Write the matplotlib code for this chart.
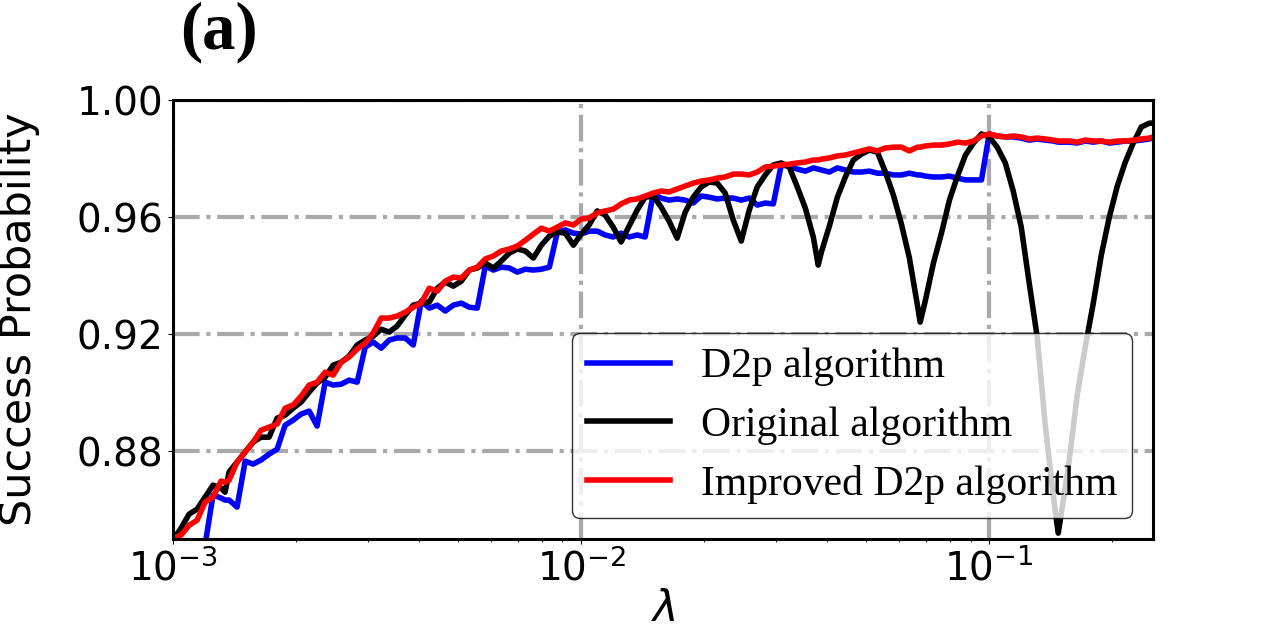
import numpy as np
import matplotlib
matplotlib.use('Agg')
import matplotlib.pyplot as plt
from matplotlib.ticker import FormatStrFormatter

# lambda values (shared by the three curves)
lam = [
    1.000e-3, 1.046e-3, 1.095e-3, 1.145e-3, 1.198e-3, 1.253e-3, 1.311e-3, 1.341e-3, 1.372e-3, 1.435e-3,
    1.502e-3, 1.571e-3, 1.643e-3, 1.719e-3, 1.799e-3, 1.882e-3, 1.969e-3, 2.060e-3, 2.155e-3, 2.254e-3,
    2.359e-3, 2.468e-3, 2.582e-3, 2.701e-3, 2.826e-3, 2.957e-3, 3.093e-3, 3.236e-3, 3.386e-3, 3.542e-3,
    3.706e-3, 3.878e-3, 4.057e-3, 4.245e-3, 4.441e-3, 4.646e-3, 4.861e-3, 5.085e-3, 5.320e-3, 5.566e-3,
    5.824e-3, 6.093e-3, 6.374e-3, 6.669e-3, 6.977e-3, 7.300e-3, 7.637e-3, 7.990e-3, 8.359e-3, 8.746e-3,
    9.150e-3, 9.573e-3,
    1.000e-2, 1.046e-2, 1.095e-2, 1.145e-2, 1.198e-2, 1.253e-2, 1.311e-2, 1.372e-2, 1.435e-2, 1.502e-2,
    1.571e-2, 1.643e-2, 1.719e-2, 1.799e-2, 1.882e-2, 1.969e-2, 2.060e-2, 2.155e-2, 2.254e-2, 2.359e-2,
    2.468e-2, 2.582e-2, 2.701e-2, 2.826e-2, 2.957e-2, 3.093e-2, 3.236e-2, 3.386e-2, 3.542e-2, 3.706e-2,
    3.810e-2, 3.878e-2, 4.057e-2, 4.245e-2, 4.441e-2, 4.646e-2, 4.861e-2, 5.085e-2, 5.320e-2, 5.566e-2,
    5.824e-2, 6.093e-2, 6.374e-2, 6.669e-2, 6.773e-2, 6.977e-2, 7.300e-2, 7.637e-2, 7.990e-2, 8.359e-2,
    8.746e-2, 9.150e-2, 9.573e-2,
    1.000e-1, 1.046e-1, 1.095e-1, 1.145e-1, 1.198e-1, 1.253e-1, 1.311e-1, 1.372e-1, 1.435e-1, 1.476e-1,
    1.502e-1, 1.571e-1, 1.643e-1, 1.719e-1, 1.799e-1, 1.882e-1, 1.969e-1, 2.060e-1, 2.155e-1, 2.254e-1,
    2.359e-1, 2.468e-1, 2.524e-1,
]

# D2p algorithm
p_d2p = [
    0.842, 0.843, 0.845, 0.846, 0.848, 0.8650, 0.8640, 0.8633, 0.8633, 0.8609,
    0.8766, 0.8756, 0.8770, 0.8790, 0.8807, 0.8889, 0.8906, 0.8927, 0.8937, 0.8886,
    0.9036, 0.9026, 0.9029, 0.9043, 0.9036, 0.9156, 0.9173, 0.9152, 0.9180, 0.9187,
    0.9187, 0.9163, 0.9313, 0.9289, 0.9299, 0.9279, 0.9299, 0.9306, 0.9292, 0.9289,
    0.9433, 0.9419, 0.9429, 0.9426, 0.9412, 0.9422, 0.9419, 0.9422, 0.9429, 0.9549,
    0.9556, 0.9545,
    0.9542, 0.9552, 0.9552, 0.9539, 0.9532, 0.9545, 0.9532, 0.9539, 0.9532, 0.9679,
    0.9665, 0.9658, 0.9662, 0.9658, 0.9648, 0.9672, 0.9668, 0.9662, 0.9665, 0.9665,
    0.9658, 0.9665, 0.9641, 0.9648, 0.9645, 0.9778, 0.9774, 0.9764, 0.9757, 0.9768,
    0.9764, 0.9761, 0.9754, 0.9768, 0.9761, 0.9754, 0.9754, 0.9757, 0.9750, 0.9750,
    0.9744, 0.9744, 0.9750, 0.9744, 0.9744, 0.9740, 0.9737, 0.9737, 0.9740, 0.9733,
    0.9727, 0.9727, 0.9727,
    0.9884, 0.9877, 0.9874, 0.9874, 0.9870, 0.9863, 0.9867, 0.9863, 0.9860, 0.9856,
    0.9856, 0.9856, 0.9853, 0.9860, 0.9856, 0.9860, 0.9853, 0.9856, 0.9860, 0.9860,
    0.9863, 0.9867, 0.9870,
]

# Original algorithm
p_orig = [
    0.8496, 0.8537, 0.8585, 0.8602, 0.8643, 0.8684, 0.8674, 0.8660, 0.8729, 0.8763,
    0.8797, 0.8831, 0.8848, 0.8848, 0.8913, 0.8923, 0.8947, 0.8968, 0.9002, 0.9033,
    0.9053, 0.9094, 0.9104, 0.9125, 0.9163, 0.9180, 0.9193, 0.9217, 0.9207, 0.9228,
    0.9265, 0.9299, 0.9306, 0.9310, 0.9357, 0.9378, 0.9364, 0.9381, 0.9419, 0.9426,
    0.9443, 0.9426, 0.9450, 0.9477, 0.9491, 0.9484, 0.9460, 0.9504, 0.9535, 0.9549,
    0.9545, 0.9504,
    0.9542, 0.9573, 0.9621, 0.9607, 0.9566, 0.9515, 0.9569, 0.9624, 0.9668, 0.9672,
    0.9634, 0.9586, 0.9528, 0.9617, 0.9668, 0.9703, 0.9720, 0.9716, 0.9682, 0.9590,
    0.9518, 0.9624, 0.9703, 0.9744, 0.9778, 0.9785, 0.9771, 0.9703, 0.9631, 0.9532,
    0.9436, 0.9480, 0.9569, 0.9668, 0.9737, 0.9795, 0.9815, 0.9829, 0.9822, 0.9754,
    0.9675, 0.9576, 0.9460, 0.9299, 0.9241, 0.9316, 0.9443, 0.9545, 0.9658, 0.9740,
    0.9812, 0.9853, 0.9884,
    0.9874, 0.9839, 0.9785, 0.9689, 0.9566, 0.9375, 0.9190, 0.8889, 0.8650, 0.8520,
    0.8588, 0.8770, 0.8992, 0.9156, 0.9306, 0.9470, 0.9600, 0.9706, 0.9788, 0.9853,
    0.9908, 0.9921, 0.9921,
]

# Improved D2p algorithm
p_imp = [
    0.8503, 0.8513, 0.8547, 0.8564, 0.8626, 0.8643, 0.8698, 0.8694, 0.8701, 0.8763,
    0.8797, 0.8831, 0.8872, 0.8882, 0.8893, 0.8947, 0.8958, 0.8988, 0.9026, 0.9036,
    0.9070, 0.9060, 0.9104, 0.9122, 0.9149, 0.9169, 0.9204, 0.9255, 0.9255, 0.9262,
    0.9275, 0.9292, 0.9306, 0.9357, 0.9347, 0.9381, 0.9395, 0.9392, 0.9419, 0.9429,
    0.9457, 0.9467, 0.9484, 0.9491, 0.9501, 0.9521, 0.9542, 0.9562, 0.9552, 0.9566,
    0.9580, 0.9573,
    0.9593, 0.9597, 0.9614, 0.9621, 0.9627, 0.9645, 0.9658, 0.9662, 0.9672, 0.9682,
    0.9689, 0.9686, 0.9696, 0.9706, 0.9716, 0.9723, 0.9727, 0.9733, 0.9737, 0.9747,
    0.9747, 0.9744, 0.9754, 0.9771, 0.9774, 0.9778, 0.9781, 0.9785, 0.9788, 0.9795,
    0.9795, 0.9798, 0.9802, 0.9809, 0.9812, 0.9819, 0.9826, 0.9833, 0.9826, 0.9836,
    0.9839, 0.9839, 0.9826, 0.9839, 0.9839, 0.9843, 0.9846, 0.9846, 0.9850, 0.9856,
    0.9853, 0.9860, 0.9877,
    0.9884, 0.9877, 0.9874, 0.9877, 0.9874, 0.9867, 0.9870, 0.9867, 0.9863, 0.9860,
    0.9860, 0.9860, 0.9856, 0.9863, 0.9860, 0.9860, 0.9856, 0.9860, 0.9860, 0.9863,
    0.9867, 0.9870, 0.9874,
]

y_ticks = [0.88, 0.92, 0.96, 1.00]

plt.rcParams['font.family'] = ['DejaVu Sans']
plt.rcParams['mathtext.fontset'] = 'dejavusans'

fig = plt.figure(figsize=(12.8, 6.24), dpi=100)
ax = fig.add_axes([0.1352, 0.1362, 0.7656, 0.7035])

ax.plot(lam, p_d2p, color='blue', lw=4, label='D2p algorithm')
ax.plot(lam, p_orig, color='black', lw=4, label='Original algorithm')
ax.plot(lam, p_imp, color='red', lw=4, label='Improved D2p algorithm')

ax.set_xscale('log')
ax.set_xlim(1e-3, 0.252)
ax.set_ylim(0.85, 1.00)
ax.set_yticks(y_ticks)
ax.yaxis.set_major_formatter(FormatStrFormatter('%.2f'))
ax.tick_params(axis='both', which='major', labelsize=28)
ax.grid(True, which='major', linestyle='-.', color='darkgray', lw=3)
for s in ax.spines.values():
    s.set_linewidth(2.2)

ax.set_xlabel(r'$\lambda$', fontsize=31, labelpad=0)
ax.set_ylabel('Success Probability', fontsize=31, labelpad=26)

leg = ax.legend(loc='lower right', prop={'family': 'Liberation Serif', 'size': 30},
                labelspacing=0.48, borderpad=0.35, handletextpad=0.75, framealpha=0.8)
leg.get_frame().set_edgecolor('black')

fig.text(0.141, 0.923, '(a)', fontsize=48, fontweight='bold', family='Liberation Serif',
         ha='left', va='baseline')

fig.savefig('out.png', dpi=100)
